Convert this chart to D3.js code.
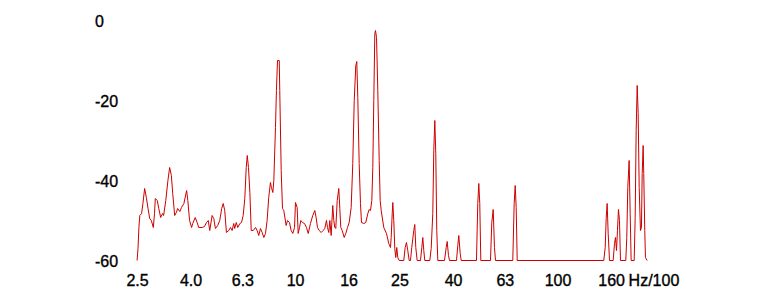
<!DOCTYPE html>
<html>
<head>
<meta charset="utf-8">
<script src="https://cdn.jsdelivr.net/npm/d3@7"></script>
<style>
  body { margin: 0; background: #fff; }
  svg { display: block; }
</style>
</head>
<body>
<div id="container"></div>
<script>
// Spectrum, level in dB against frequency in Hz/100 (log axis)

//### DATA ###
const freq = [
  2.48, 2.50, 2.52, 2.54, 2.58, 2.61, 2.65, 2.69, 2.73, 2.77,
  2.81, 2.86, 2.89, 2.91, 2.96, 3.00, 3.05, 3.10, 3.13, 3.19,
  3.25, 3.30, 3.35, 3.39, 3.45, 3.50, 3.54, 3.61, 3.66, 3.74,
  3.83, 3.87, 3.93, 4.00, 4.04, 4.13, 4.20, 4.26, 4.39, 4.48,
  4.56, 4.63, 4.69, 4.79, 4.86, 4.93, 5.03, 5.12, 5.21, 5.28,
  5.35, 5.43, 5.54, 5.63, 5.71, 5.79, 5.84, 5.92, 6.00, 6.11,
  6.20, 6.29, 6.38, 6.46, 6.52, 6.59, 6.67, 6.75, 6.87, 7.01,
  7.11, 7.21, 7.32, 7.43, 7.54, 7.65, 7.76, 7.87, 7.99, 8.06,
  8.16, 8.23, 8.35, 8.42, 8.50, 8.63, 8.67, 8.78, 8.88, 8.98,
  9.17, 9.28, 9.44, 9.58, 9.72, 9.87, 9.95, 10.1, 10.19, 10.31,
  10.43, 10.58, 10.77, 10.96, 11.13, 11.35, 11.58, 11.79, 11.93, 12.07,
  12.25, 12.47, 12.69, 12.87, 13.06, 13.18, 13.33, 13.45, 13.61, 13.8,
  13.93, 14.05, 14.17, 14.35, 14.55, 14.68, 14.81, 14.99, 15.26, 15.47,
  15.71, 15.94, 16.22, 16.45, 16.66, 16.89, 17.04, 17.19, 17.4, 17.6,
  17.76, 18.12, 18.44, 18.77, 19.0, 19.22, 19.44, 19.61, 19.78, 19.96,
  20.08, 20.26, 20.49, 20.74, 20.92, 21.11, 21.59, 22.11, 22.56, 22.9,
  23.04, 23.25, 23.37, 23.57, 23.78, 23.99, 24.2, 24.42, 24.72, 25.73,
  26.05, 26.35, 26.65, 26.98, 27.29, 27.6, 28.09, 28.34, 28.59, 28.94,
  29.79, 30.14, 30.4, 30.67, 30.94, 32.33, 32.73, 33.19, 33.48, 33.78,
  34.07, 34.37, 34.68, 36.78, 37.33, 37.66, 38.09, 38.43, 40.86, 41.33,
  41.69, 42.21, 42.58, 48.69, 49.25, 49.69, 50.12, 50.57, 55.06, 55.69,
  56.38, 57.02, 57.53, 66.95, 67.78, 68.38, 68.98, 69.59, 148.7, 150.6,
  151.9, 153.2, 154.6, 156.4, 161.5, 163.4, 164.8, 166.3, 167.7, 169.2,
  170.7, 172.2, 180.4, 182.0, 183.6, 185.8, 187.5, 189.1, 194.2, 195.9,
  197.6, 199.4, 201.1, 202.9, 205.2, 207.0, 208.3, 210.1, 211.2, 213.1,
  214.4, 217.6
];

const level = [
  -60, -57, -51.75, -48.75, -48.25, -45.75, -42, -44.25, -47, -49.5,
  -50, -51.75, -48.25, -44.5, -45, -47, -49.25, -48.25, -48.75, -45,
  -40, -36.75, -38.75, -43.25, -48.75, -48, -47, -47.75, -46.75, -45.75,
  -42.5, -45, -50, -51.75, -50.75, -49.25, -50.5, -51.75, -51.75, -51.5,
  -50.5, -50, -52.5, -48.75, -49.5, -52, -51.25, -50, -47, -45.75,
  -47.5, -53, -52.5, -51.75, -52.5, -50.75, -52, -50.5, -51.75, -50.75,
  -50.5, -48.75, -44.5, -36.75, -33.75, -36.75, -43, -52.5, -52.5, -51.75,
  -52.5, -53.75, -52, -53, -54.25, -53.25, -50, -44.25, -40.5, -41.75,
  -43, -40, -26.75, -17.5, -10, -10, -17.5, -37.5, -47, -47.5,
  -51.25, -50, -50.5, -52.5, -53.25, -51.75, -45.5, -46.75, -53.25, -51.75,
  -50, -50.5, -50.75, -51.75, -53.25, -50.75, -48.75, -47.5, -49.25, -51.75,
  -52.5, -53, -52.5, -52, -50, -51.75, -53, -50, -53.75, -46.25,
  -50, -51.75, -52, -45, -42, -47, -51.75, -52.5, -54.25, -53.25,
  -51.75, -50.5, -46.75, -35.75, -20, -11.25, -10.25, -19.25, -35.75, -45.75,
  -50.5, -50.75, -50.5, -48.25, -47.25, -47.5, -45, -36.75, -20, -3.25,
  -2.5, -4.25, -17.5, -35, -45, -47.5, -51.75, -53.25, -55.75, -56.75,
  -54.25, -48.25, -45.5, -50, -57, -59.25, -56.75, -59.25, -60, -60,
  -56.75, -55.5, -57.5, -60, -60, -56.75, -52.5, -51, -56.75, -60,
  -60, -56.75, -54.25, -57.5, -60, -60, -57, -48.25, -32.5, -25,
  -33.25, -52.5, -60, -60, -56.75, -55.25, -58.75, -60, -60, -56.25,
  -53.75, -58.25, -60, -60, -45.75, -40.75, -45.75, -60, -60, -50.5,
  -47.25, -56.75, -60, -60, -45.75, -41.25, -46.75, -60, -60, -56.75,
  -49.5, -45.75, -53.25, -60, -60, -55.75, -54.25, -57.5, -52.5, -47.25,
  -50, -60, -60, -54.25, -41.75, -35, -48.25, -60, -60, -49.25,
  -27.5, -16.25, -23.25, -41.75, -52.5, -51.75, -38.25, -31.25, -38.25, -52.5,
  -59.25, -60
];

const xTickValues = [2.5, 4, 6.3, 10, 16, 25, 40, 63, 100, 160];
const xTickLabels = ['2.5', '4.0', '6.3', '10', '16', '25', '40', '63', '100', '160'];
const yTickValues = [0, -20, -40, -60];
const xUnit = 'Hz/100';

//### LAYOUT ###
const width = 784;
const height = 300;
const lineColor = '#cc0000';
const font = '"Liberation Sans", Arial, sans-serif';

const svg = d3.select('#container')
  .append('svg')
  .attr('width', width)
  .attr('height', height)
  .style('font-family', font)
  .style('font-size', '16px');

//>>> Scales
const x = d3.scaleLog()
  .domain([2.5, 160])
  .range([137.5, 611.6]);

const y = d3.scaleLinear()
  .domain([-60, 0])
  .range([260, 20]);

//>>> Label styling: thin stroke to get the heavier look of the original
const labelStyle = sel => sel
  .attr('fill', '#000')
  .attr('stroke', '#000')
  .attr('stroke-width', 0.35);

//_____ Y LABELS _____
svg.append('g')
  .selectAll('text')
  .data(yTickValues)
  .enter()
  .append('text')
  .attr('x', 95)
  .attr('y', d => y(d) + 6.5)
  .call(labelStyle)
  .text(d => d);

//_____ X LABELS _____
svg.append('g')
  .selectAll('text')
  .data(xTickValues)
  .enter()
  .append('text')
  .attr('x', d => x(d))
  .attr('y', 286)
  .attr('text-anchor', 'middle')
  .call(labelStyle)
  .text((d, i) => xTickLabels[i]);

svg.append('text')
  .attr('x', x(160) + 17)
  .attr('y', 286)
  .call(labelStyle)
  .text(xUnit);

//_____ SPECTRUM LINE _____
const line = d3.line()
  .x(d => x(d[0]))
  .y(d => y(d[1]));

svg.append('path')
  .datum(d3.zip(freq, level))
  .attr('transform', 'translate(0.5, 0.5)')
  .attr('fill', 'none')
  .attr('stroke', lineColor)
  .attr('stroke-width', 1)
  .attr('d', line);
</script>
</body>
</html>
